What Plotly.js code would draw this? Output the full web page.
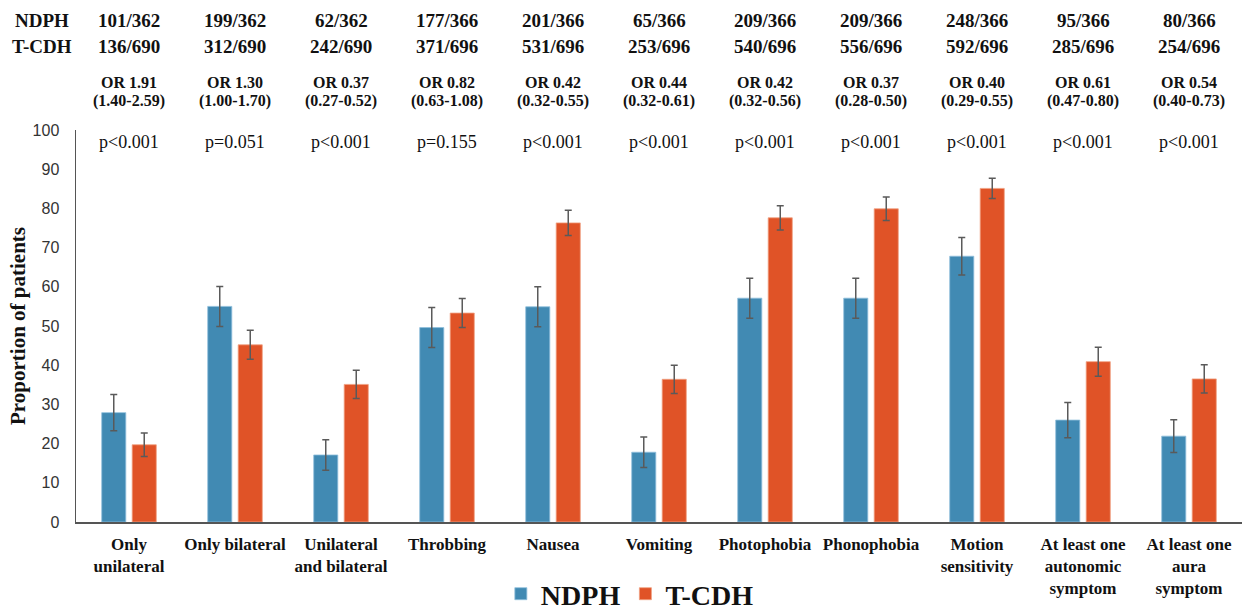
<!DOCTYPE html>
<html><head><meta charset="utf-8">
<script src="https://cdn.plot.ly/plotly-3.0.1.min.js"></script>
<style>html,body{margin:0;padding:0;background:#fff}</style>
</head><body>
<div id="chart" style="width:1245px;height:611px"></div>
<script>
const categories = ["Only<br>unilateral","Only bilateral","Unilateral<br>and bilateral","Throbbing","Nausea","Vomiting","Photophobia","Phonophobia","Motion<br>sensitivity","At least one<br>autonomic<br>symptom","At least one<br>aura<br>symptom"];
const ndph = [27.9, 55.0, 17.1, 49.6, 54.9, 17.8, 57.1, 57.1, 67.8, 26.0, 21.9];
const ndphErr = [4.6, 5.1, 3.9, 5.1, 5.1, 3.9, 5.1, 5.1, 4.8, 4.5, 4.2];
const tcdh = [19.7, 45.2, 35.1, 53.3, 76.3, 36.4, 77.6, 79.9, 85.1, 40.9, 36.5];
const tcdhErr = [3.0, 3.7, 3.6, 3.7, 3.2, 3.6, 3.1, 3.0, 2.6, 3.7, 3.6];
const ndphCounts = ["101/362","199/362","62/362","177/366","201/366","65/366","209/366","209/366","248/366","95/366","80/366"];
const tcdhCounts = ["136/690","312/690","242/690","371/696","531/696","253/696","540/696","556/696","592/696","285/696","254/696"];
const orLabels = ["OR 1.91","OR 1.30","OR 0.37","OR 0.82","OR 0.42","OR 0.44","OR 0.42","OR 0.37","OR 0.40","OR 0.61","OR 0.54"];
const ciLabels = ["(1.40-2.59)","(1.00-1.70)","(0.27-0.52)","(0.63-1.08)","(0.32-0.55)","(0.32-0.61)","(0.32-0.56)","(0.28-0.50)","(0.29-0.55)","(0.47-0.80)","(0.40-0.73)"];
const pLabels = ["p<0.001","p=0.051","p<0.001","p=0.155","p<0.001","p<0.001","p<0.001","p<0.001","p<0.001","p<0.001","p<0.001"];

const serif = "Liberation Serif, Times New Roman, serif";
const errStyle = {type:'data', visible:true, thickness:1.5, width:3.5, color:'#5a5a5a'};

const traces = [
  {type:'bar', name:'NDPH', x:categories, y:ndph, marker:{color:'#418ab3', line:{color:'#8fbfdc', width:0.8}},
   error_y:Object.assign({array:ndphErr}, errStyle)},
  {type:'bar', name:'T-CDH', x:categories, y:tcdh, marker:{color:'#e05327', line:{color:'#f0a080', width:0.8}},
   error_y:Object.assign({array:tcdhErr}, errStyle)}
];

const ann = [];
function yp(px){ return (522 - px) / 392; }
const bold = {family:serif, color:'#111', weight:'bold'};
const reg = {family:serif, color:'#111', weight:'normal'};
ann.push({xref:'paper', yref:'paper', x:(42-76)/1166, y:yp(21), text:'NDPH', showarrow:false, font:Object.assign({size:19}, bold), xanchor:'center', yanchor:'middle'});
ann.push({xref:'paper', yref:'paper', x:(42-76)/1166, y:yp(46), text:'T-CDH', showarrow:false, font:Object.assign({size:19}, bold), xanchor:'center', yanchor:'middle'});
categories.forEach((c,i)=>{
  ann.push({xref:'x', yref:'paper', x:c, y:yp(21), text:ndphCounts[i], showarrow:false, font:Object.assign({size:19}, bold), yanchor:'middle'});
  ann.push({xref:'x', yref:'paper', x:c, y:yp(46), text:tcdhCounts[i], showarrow:false, font:Object.assign({size:19}, bold), yanchor:'middle'});
  ann.push({xref:'x', yref:'paper', x:c, y:yp(82), text:orLabels[i], showarrow:false, font:Object.assign({size:16}, bold), yanchor:'middle'});
  ann.push({xref:'x', yref:'paper', x:c, y:yp(101), text:ciLabels[i], showarrow:false, font:Object.assign({size:16}, bold), yanchor:'middle'});
  ann.push({xref:'x', yref:'paper', x:c, y:yp(142), text:pLabels[i].replace('<','&lt;'), showarrow:false, font:Object.assign({size:18}, reg), yanchor:'middle'});
});

const layout = {
  width:1245, height:611,
  margin:{l:76, r:3, t:130, b:89},
  paper_bgcolor:'#fff', plot_bgcolor:'#fff',
  barmode:'group', bargap:0.425, bargroupgap:0.21,
  showlegend:true,
  legend:{orientation:'h', x:0.475, xanchor:'center', yref:'container', y:(611-594)/611, yanchor:'middle',
    font:{family:serif, size:28, color:'#111', weight:'bold'}, traceorder:'normal', tracegroupgap:0},
  xaxis:{showline:true, linecolor:'#555', linewidth:1.5, ticks:'', showgrid:false, ticklabelstandoff:6,
    tickfont:{family:serif, size:17, color:'#111', weight:'bold'}, automargin:false, tickangle:0},
  yaxis:{range:[0,100], dtick:10, showline:true, linecolor:'#555', linewidth:1.5, showgrid:false, zeroline:false,
    ticks:'', ticklabelstandoff:12, tickfont:{family:'Liberation Sans, Arial, sans-serif', size:16, color:'#333'},
    automargin:false,
    title:{text:'Proportion of patients', standoff:1, font:{family:serif, size:21, color:'#111', weight:'bold'}}},
  annotations:ann
};
Plotly.newPlot('chart', traces, layout, {displayModeBar:false, staticPlot:true});
</script>
</body></html>
